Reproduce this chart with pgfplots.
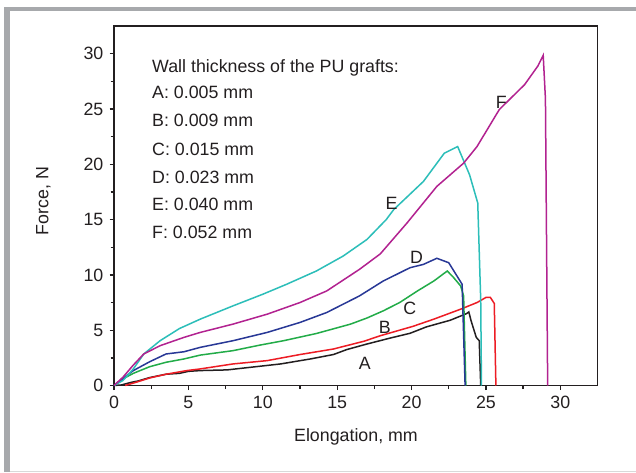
\documentclass[border=0pt]{standalone}
\usepackage{pgfplots}
\pgfplotsset{compat=1.18}
\usepackage{fontspec}
\setmainfont{Liberation Sans}
\definecolor{cA}{RGB}{35,31,32}
\definecolor{cB}{RGB}{237,28,36}
\definecolor{cC}{RGB}{34,172,72}
\definecolor{cD}{RGB}{40,56,150}
\definecolor{cE}{RGB}{44,190,185}
\definecolor{cF}{RGB}{178,34,144}
\definecolor{frame}{RGB}{167,169,172}
\definecolor{axc}{RGB}{35,31,32}
\begin{document}
\fontsize{17.8pt}{21pt}\selectfont
\begin{tikzpicture}[x=1pt,y=1pt]
\useasboundingbox (0,0) rectangle (636,472);
\fill[white] (0,0) rectangle (636,472);
\fill[frame] (4,461) rectangle (636,465);
\fill[frame] (4,0) rectangle (10,465);
\fill[black!15] (10,0.5) rectangle (636,1.5);
\begin{axis}[
  at={(114pt,86.5pt)}, anchor=south west,
  width=483.5pt, height=359.5pt, scale only axis,
  xmin=0, xmax=32.5, ymin=0, ymax=32.5,
  xtick={0,5,...,30}, ytick={0,5,...,30},
  minor tick num=1,
  tick pos=left, tick align=outside,
  major tick length=4.5pt, minor tick length=3.5pt,
  every tick/.style={line width=1.3pt, axc},
  axis line style={line width=1.8pt, axc},
  /pgf/number format/assume math mode=true,
  ticklabel style={font=\fontsize{17.8pt}{21pt}\selectfont, text=axc},
  clip=false,
]
\addplot[cA, line width=1.5pt] coordinates {(0,0) (0.5,0.05) (1.2,0.3) (1.6,0.4) (2.4,0.72) (3.5,1.02) (4.4,1.1) (5.0,1.28) (5.8,1.35) (7.6,1.41) (9.2,1.65) (11.2,1.95) (13.2,2.4) (14.75,2.8) (15.65,3.25) (17.0,3.75) (18.6,4.3) (19.9,4.72) (21.0,5.3) (22.6,5.9) (23.7,6.5) (23.85,6.65) (24.0,5.86) (24.35,4.35) (24.55,4.05) (24.65,0)};
\addplot[cB, line width=1.5pt] coordinates {(0.75,0) (1.5,0.3) (2.4,0.68) (3.5,1.02) (4.9,1.35) (5.8,1.5) (8.0,1.95) (10.3,2.25) (12.5,2.8) (14.75,3.3) (16.8,4.0) (17.9,4.5) (20.1,5.35) (21.5,6.0) (23.3,6.9) (24.4,7.5) (25.0,7.96) (25.3,7.96) (25.56,7.42) (25.67,0)};
\addplot[cC, line width=1.5pt] coordinates {(0,0) (0.6,0.6) (1.3,1.1) (2.4,1.7) (3.5,2.1) (4.7,2.4) (5.8,2.75) (8.0,3.15) (9.8,3.65) (11.4,4.05) (13.6,4.7) (15.9,5.55) (17.0,6.1) (18.1,6.75) (19.2,7.5) (20.4,8.55) (21.5,9.45) (22.4,10.35) (22.8,9.8) (23.3,9.0) (23.5,8.1) (23.65,0)};
\addplot[cD, line width=1.5pt] coordinates {(0,0) (0.85,0.9) (1.3,1.35) (2.4,2.15) (3.5,2.85) (4.7,3.05) (5.8,3.45) (8.0,4.05) (10.3,4.8) (12.5,5.7) (14.3,6.6) (16.5,8.1) (18.1,9.45) (19.9,10.65) (20.8,10.95) (21.7,11.5) (22.5,11.1) (23.4,9.15) (23.6,0)};
\addplot[cE, line width=1.5pt] coordinates {(0,0) (0.6,0.45) (1.3,1.5) (2.0,2.85) (3.1,4.05) (4.4,5.15) (5.8,6.0) (8.0,7.2) (10.0,8.25) (11.6,9.15) (13.6,10.35) (15.4,11.7) (17.0,13.2) (18.3,15.0) (18.8,15.9) (20.8,18.45) (22.2,21.0) (23.1,21.6) (23.9,19.05) (24.45,16.5) (24.65,7.7) (24.7,0)};
\addplot[cF, line width=1.5pt] coordinates {(0,0) (0.6,0.75) (1.3,1.85) (2.0,2.85) (3.1,3.6) (4.7,4.35) (5.8,4.8) (8.0,5.55) (10.3,6.45) (12.5,7.5) (14.3,8.55) (16.5,10.5) (17.9,11.9) (19.7,14.7) (21.7,18.0) (23.5,20.1) (24.4,21.6) (25.9,24.95) (27.6,27.2) (28.5,28.9) (28.85,29.85) (29.0,25.9) (29.15,0)};
\node[text=axc] at (axis cs:16.86,1.97) {A};
\node[text=axc] at (axis cs:18.2,5.29) {B};
\node[text=axc] at (axis cs:19.88,6.96) {C};
\node[text=axc] at (axis cs:20.33,11.59) {D};
\node[text=axc] at (axis cs:18.65,16.49) {E};
\node[text=axc] at (axis cs:26.04,25.56) {F};
\end{axis}
\begin{scope}[every node/.style={anchor=base west, inner sep=0pt, text=axc}]
\node at (152,399.7) {Wall thickness of the PU grafts:};
\node at (152,373.7) {A: 0.005 mm};
\node at (152,345.3) {B: 0.009 mm};
\node at (152,317) {C: 0.015 mm};
\node at (152,288.7) {D: 0.023 mm};
\node at (152,261.3) {E: 0.040 mm};
\node at (152,233.7) {F: 0.052 mm};
\end{scope}
\node[text=axc, rotate=90] at (43.5,271) {Force, N};
\node[text=axc] at (356,35) {Elongation, mm};
\end{tikzpicture}
\end{document}
